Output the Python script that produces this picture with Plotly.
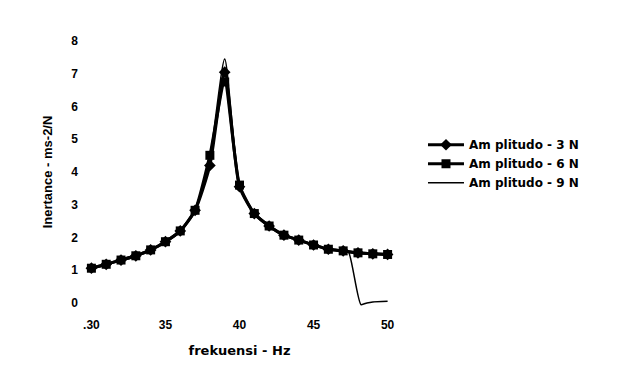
import plotly.graph_objects as go

freq = list(range(30, 51))
amp3 = [1.06, 1.18, 1.31, 1.44, 1.62, 1.87, 2.20, 2.83, 4.20, 7.05, 3.55, 2.73, 2.35, 2.07, 1.92, 1.77, 1.64, 1.59, 1.53, 1.50, 1.48]
amp6 = [1.06, 1.18, 1.31, 1.44, 1.62, 1.87, 2.20, 2.83, 4.51, 6.75, 3.60, 2.73, 2.35, 2.07, 1.92, 1.77, 1.64, 1.59, 1.53, 1.50, 1.48]
freq9 = [30, 31, 32, 33, 34, 35, 36, 37, 38, 39, 40, 41, 42, 43, 44, 45, 46, 47, 47.35, 48.2, 48.6, 49, 50]
amp9 = [1.06, 1.18, 1.31, 1.44, 1.62, 1.87, 2.20, 2.83, 4.45, 7.45, 3.60, 2.73, 2.35, 2.07, 1.92, 1.77, 1.64, 1.59, 1.57, -0.05, 0.0, 0.03, 0.05]

names = ["Am plitudo - 3 N", "Am plitudo - 6 N", "Am plitudo - 9 N"]
ytick_vals = list(range(0, 9))
xtick_vals = [30, 35, 40, 45, 50]
xtick_text = [".30", "35", "40", "45", "50"]

arial = "Arial, Liberation Sans, sans-serif"
wide = "DejaVu Sans, sans-serif"

fig = go.Figure()
fig.add_trace(go.Scatter(x=freq, y=amp3, name=names[0], mode="lines+markers",
                         line=dict(color="black", width=3, shape="spline", smoothing=0.6),
                         marker=dict(symbol="diamond", size=9, color="black")))
fig.add_trace(go.Scatter(x=freq, y=amp6, name=names[1], mode="lines+markers",
                         line=dict(color="black", width=3, shape="spline", smoothing=0.6),
                         marker=dict(symbol="square", size=9, color="black")))
fig.add_trace(go.Scatter(x=freq9, y=amp9, name=names[2], mode="lines",
                         line=dict(color="black", width=1.5, shape="spline", smoothing=0.6)))

fig.update_layout(
    width=623, height=373,
    margin=dict(l=84, r=228, t=28, b=57),
    paper_bgcolor="white", plot_bgcolor="white",
    font=dict(family=arial, size=12, color="black", weight="bold"),
    xaxis=dict(range=[29.5, 50.5], tickvals=xtick_vals, ticktext=xtick_text,
               showgrid=False, zeroline=False, showline=False, ticks="",
               tickfont=dict(size=12, weight="bold"),
               title=dict(text="frekuensi - Hz", font=dict(family=wide, size=13, weight="bold"), standoff=14)),
    yaxis=dict(range=[-0.4, 8.4], tickvals=ytick_vals, showgrid=False, zeroline=False,
               showline=False, ticks="", ticklabelstandoff=5,
               tickfont=dict(size=12, weight="bold"),
               title=dict(text="Inertance - ms-2/N", font=dict(family=arial, size=13, weight="bold"), standoff=15)),
    legend=dict(x=1.09, y=0.645, xanchor="left", yanchor="top", itemwidth=36,
                font=dict(family=wide, size=12, weight="bold"), bgcolor="rgba(0,0,0,0)",
                tracegroupgap=0),
    showlegend=True,
)

fig.write_html("out.html")
